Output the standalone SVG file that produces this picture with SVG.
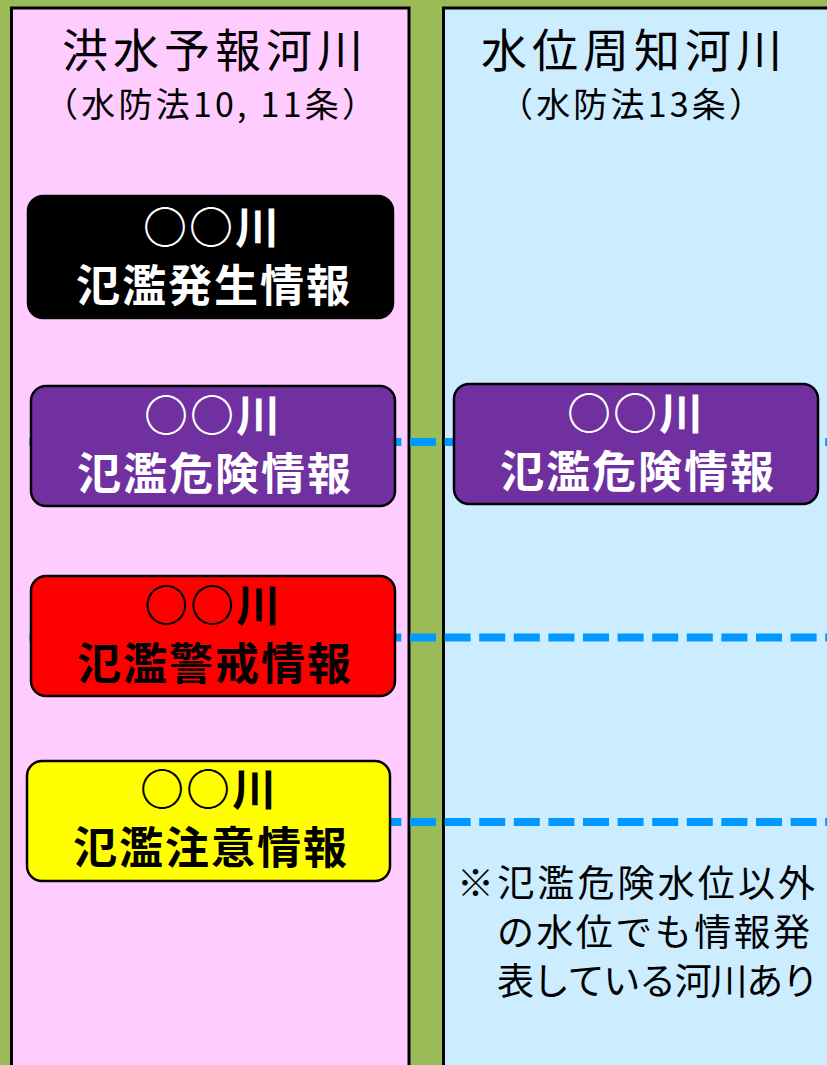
<svg xmlns="http://www.w3.org/2000/svg" width="827" height="1065" viewBox="0 0 827 1065">
<style>
.col{stroke:#000;stroke-width:3}
.box{stroke:#000;stroke-width:2.5}
.hd{font-family:"Noto Sans CJK JP","Noto Sans",sans-serif;font-size:46px;letter-spacing:5px;fill:#000;text-anchor:middle}
.sub{font-family:"Noto Sans CJK JP","Noto Sans",sans-serif;font-size:34px;fill:#000}
.bt{font-family:"Noto Sans CJK JP","Noto Sans",sans-serif;font-size:44px;font-weight:bold;letter-spacing:2px;text-anchor:middle}
.note{font-family:"Noto Sans CJK JP","Noto Sans",sans-serif;font-size:37px;fill:#000}
.dash{stroke:#0099FF;stroke-width:8;stroke-dasharray:26 8.6;fill:none}
</style>
<rect x="0" y="0" width="827" height="1065" fill="#9BBB59"/>
<g id="col-left">
<rect class="col" x="11.5" y="8" width="397.5" height="1070" fill="#FFCCFF"/>
<text class="hd" x="215" y="67">洪水予報河川</text>
<text class="sub" x="44" y="117" textLength="332" lengthAdjust="spacing">（水防法10, 11条）</text>
</g>
<g id="col-right">
<rect class="col" x="443.5" y="8" width="400" height="1070" fill="#CCECFF"/>
<text class="hd" x="634" y="67">水位周知河川</text>
<text class="sub" x="499" y="117" textLength="264" lengthAdjust="spacing">（水防法13条）</text>
</g>
<g id="connectors">
<line class="dash" x1="29.4" y1="442" x2="827" y2="442"/>
<line class="dash" x1="29.4" y1="637.5" x2="827" y2="637.5"/>
<line class="dash" x1="29.4" y1="822" x2="827" y2="822"/>
</g>
<g id="box-hassei">
<rect class="box" x="28" y="196" width="365" height="122" rx="15" fill="#000"/>
<text class="bt" x="212" y="244" fill="#fff">○○川</text>
<text class="bt" x="214" y="302" fill="#fff">氾濫発生情報</text>
</g>
<g id="box-kiken-left">
<rect class="box" x="31" y="386" width="364" height="120" rx="15" fill="#7030A0"/>
<text class="bt" x="213" y="432" fill="#fff">○○川</text>
<text class="bt" x="215" y="490" fill="#fff">氾濫危険情報</text>
</g>
<g id="box-kiken-right">
<rect class="box" x="454" y="384" width="364" height="120" rx="15" fill="#7030A0"/>
<text class="bt" x="636" y="430" fill="#fff">○○川</text>
<text class="bt" x="638" y="488" fill="#fff">氾濫危険情報</text>
</g>
<g id="box-keikai">
<rect class="box" x="31" y="576" width="364" height="120" rx="15" fill="#FF0000"/>
<text class="bt" x="213" y="622" fill="#000">○○川</text>
<text class="bt" x="215" y="680" fill="#000">氾濫警戒情報</text>
</g>
<g id="box-chui">
<rect class="box" x="27" y="761" width="363" height="120" rx="15" fill="#FFFF00"/>
<text class="bt" x="209" y="806" fill="#000">○○川</text>
<text class="bt" x="211" y="864" fill="#000">氾濫注意情報</text>
</g>
<g id="note">
<text class="note" x="457" y="897" textLength="358" lengthAdjust="spacing">※氾濫危険水位以外</text>
<text class="note" x="497" y="946" textLength="313" lengthAdjust="spacing">の水位でも情報発</text>
<text class="note" x="497" y="995" textLength="322" lengthAdjust="spacing">表している河川あり</text>
</g>
</svg>
